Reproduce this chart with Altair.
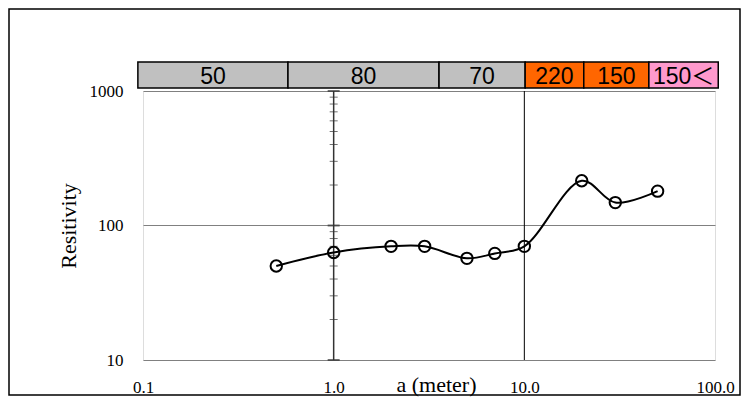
import altair as alt
import pandas as pd
import numpy as np

# measured data
a_m = [0.5, 1, 2, 3, 5, 7, 10, 20, 30, 50]
resist = [50, 63, 70, 70, 57, 62, 70, 215, 148, 180]

# banner (layer resistivities) boundaries in a (meter)
band_start = [0.094, 0.576, 3.57, 10.1, 20.5, 45.0]
band_end = [0.576, 3.57, 10.1, 20.5, 45.0, 104.0]
band_label = ["50", "80", "70", "220", "150", "150＜"]
band_color = ["#C0C0C0", "#C0C0C0", "#C0C0C0", "#FF6600", "#FF6600", "#FF99CC"]

x_ticks = [0.1, 1, 10, 100]
y_ticks = [10, 100, 1000]
y_minor = [20, 30, 40, 50, 60, 70, 80, 90, 200, 300, 400, 500, 600, 700, 800, 900]
x_grid = [10]
axis_cross_x = 1

W, H = 572, 269
SERIF = "Liberation Serif, Times New Roman, serif"
BANNER = "Liberation Sans, Noto Sans CJK JP, sans-serif"

df = pd.DataFrame({"a": a_m, "rho": resist})
band = pd.DataFrame({"s": band_start, "e": band_end, "label": band_label, "color": band_color})
band["mid"] = np.sqrt(band["s"] * band["e"])

xs = alt.Scale(type="log", domain=[0.1, 100], nice=False)
ys = alt.Scale(type="log", domain=[10, 1000], nice=False)

x_axis = alt.Axis(values=x_ticks, format=".1f", grid=False, ticks=False, domain=False,
                  labelFont=SERIF, labelFontSize=17, labelColor="black", labelPadding=19,
                  labelFlush=False, labelOverlap=False, labelBound=False,
                  title="a (meter)", titleFont=SERIF, titleFontSize=22, titleFontWeight="normal",
                  titleColor="black", titleX=293, titleY=31, titleBaseline="alphabetic")
y_axis = alt.Axis(values=y_ticks, format="d", grid=True, gridColor="#808080", gridWidth=1,
                  ticks=False, domain=False,
                  labelFont=SERIF, labelFontSize=17, labelColor="black", labelPadding=20,
                  title="Resitivity", titleFont=SERIF, titleFontSize=22, titleFontWeight="normal",
                  titleColor="black", titleX=-75, titleY=H / 2, titleBaseline="middle")

line = alt.Chart(df).mark_line(color="black", strokeWidth=2, interpolate="catmull-rom").encode(
    x=alt.X("a:Q", scale=xs, axis=x_axis),
    y=alt.Y("rho:Q", scale=ys, axis=y_axis),
)
pts = alt.Chart(df).mark_point(shape="circle", filled=False, color="black", size=130, strokeWidth=2, opacity=1).encode(
    x=alt.X("a:Q", scale=xs), y=alt.Y("rho:Q", scale=ys)
)

grid_df = pd.DataFrame({"gx": x_grid})
vgrid = alt.Chart(grid_df).mark_rule(color="black", strokeWidth=1).encode(
    x=alt.X("gx:Q", scale=xs), y=alt.value(0), y2=alt.value(H)
)

cross_df = pd.DataFrame({"cx": [axis_cross_x]})
cross = alt.Chart(cross_df).mark_rule(color="#333333", strokeWidth=1.5).encode(
    x=alt.X("cx:Q", scale=xs), y=alt.value(0), y2=alt.value(H)
)

minor_df = pd.DataFrame({"cx": [axis_cross_x] * len(y_minor), "v": y_minor})
major_df = pd.DataFrame({"cx": [axis_cross_x] * len(y_ticks), "v": y_ticks})
minor_t = alt.Chart(minor_df).mark_tick(orient="horizontal", color="#333333", size=8, thickness=1).encode(
    x=alt.X("cx:Q", scale=xs), y=alt.Y("v:Q", scale=ys)
)
major_t = alt.Chart(major_df).mark_tick(orient="horizontal", color="#333333", size=12, thickness=2).encode(
    x=alt.X("cx:Q", scale=xs), y=alt.Y("v:Q", scale=ys)
)

band_rect = alt.Chart(band).mark_rect(stroke="black", strokeWidth=1.5).encode(
    x=alt.X("s:Q", scale=xs), x2="e:Q",
    y=alt.value(-29), y2=alt.value(-3),
    fill=alt.Fill("color:N", scale=None),
)
band_text = alt.Chart(band).mark_text(font=BANNER, fontSize=23, color="black", baseline="middle", align="center").encode(
    x=alt.X("mid:Q", scale=xs), y=alt.value(-14), text="label:N"
)

frame = alt.Chart(pd.DataFrame({"k": [0]})).mark_rect(fill=None, stroke="black", strokeWidth=1.5).encode(
    x=alt.value(-134), x2=alt.value(597), y=alt.value(-82), y2=alt.value(304)
)

chart = alt.layer(vgrid, cross, minor_t, major_t, line, pts, band_rect, band_text, frame).properties(
    width=W, height=H,
    autosize=alt.AutoSizeParams(type="none"),
    padding={"left": 135, "top": 83, "right": 26, "bottom": 37},
).configure_view(stroke="#555555", strokeWidth=1).configure(background="white")

chart.save("out.html", embed_options={"renderer": "svg", "actions": False})
